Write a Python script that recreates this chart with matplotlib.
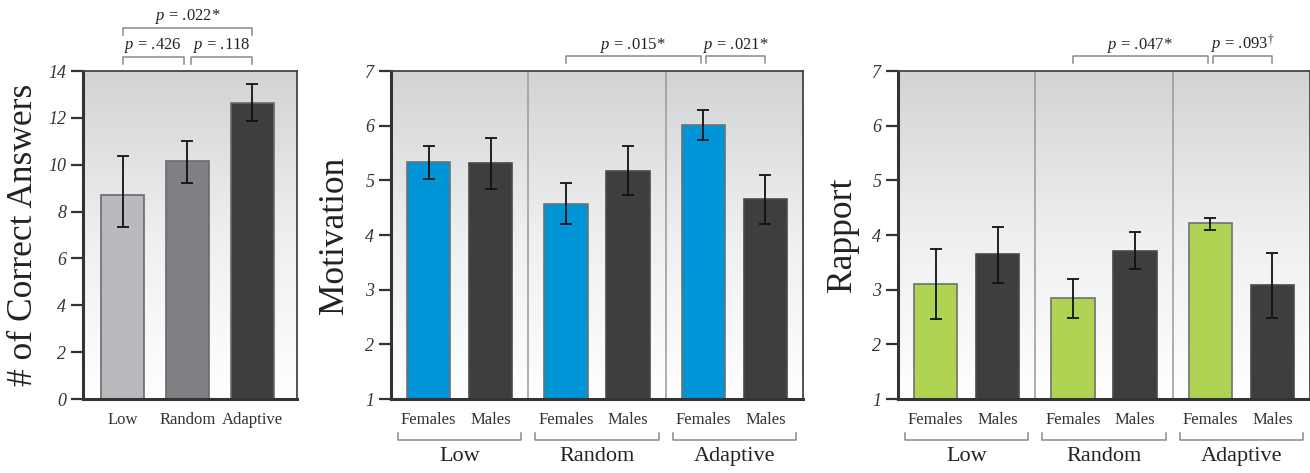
import numpy as np
import matplotlib
matplotlib.use('Agg')
import matplotlib.pyplot as plt
from matplotlib.colors import LinearSegmentedColormap
import matplotlib.transforms as mtrans

plt.rcParams['font.family'] = ['Liberation Serif', 'DejaVu Serif']
plt.rcParams['mathtext.fontset'] = 'custom'
plt.rcParams['mathtext.it'] = 'Liberation Serif:italic'
plt.rcParams['mathtext.rm'] = 'Liberation Serif'

# Data
conditions = ['Low', 'Random', 'Adaptive']
genders = ['Females', 'Males']

correct_mean = [8.7, 10.15, 12.65]
correct_lo = [7.35, 9.22, 11.87]
correct_hi = [10.37, 11.0, 13.43]

motiv_f = [5.33, 4.57, 6.01]
motiv_f_lo = [5.03, 4.2, 5.74]
motiv_f_hi = [5.63, 4.96, 6.29]
motiv_m = [5.31, 5.17, 4.65]
motiv_m_lo = [4.85, 4.73, 4.2]
motiv_m_hi = [5.77, 5.62, 5.1]

rapport_f = [3.1, 2.85, 4.22]
rapport_f_lo = [2.47, 2.49, 4.09]
rapport_f_hi = [3.74, 3.2, 4.32]
rapport_m = [3.66, 3.71, 3.08]
rapport_m_lo = [3.13, 3.37, 2.49]
rapport_m_hi = [4.15, 4.06, 3.67]

correct_pvals = ['.426', '.118', '.022*']
motiv_pvals = ['.015*', '.021*']
rapport_pvals = ['.047*', r'.093$^{\dagger}$']

# colours
bar_greys = ['#b9babe', '#7f8084', '#3e3e3e']
male_col = '#3e3e3e'
blue = '#0095d6'
green = '#b0d353'
bracket_col = '#8a8a8a'

W, H = 1310, 473
fig = plt.figure(figsize=(W / 100, H / 100), dpi=100)

grad_cmap = LinearSegmentedColormap.from_list('bg', ['#d2d3d5', '#eeeff0', '#ffffff'])


def px_axes(l, t, r, b):
    return fig.add_axes([l / W, 1 - b / H, (r - l) / W, (b - t) / H])


def style_axes(ax, ymin, ymax, yticks):
    grad = np.linspace(0, 1, 256).reshape(-1, 1)
    ax.imshow(grad, extent=[0, 1, 0, 1], transform=ax.transAxes, aspect='auto',
              cmap=grad_cmap, zorder=0)
    ax.set_ylim(ymin, ymax)
    ax.set_yticks(yticks)
    for lab in ax.get_yticklabels():
        lab.set_fontstyle('italic')
    ax.tick_params(axis='y', direction='out', length=9, width=1.6, color='#333333',
                   labelsize=13, labelcolor='#333333', pad=3)
    ax.tick_params(axis='x', length=0, labelsize=12, labelcolor='#333333', pad=9)
    for s in ['left', 'bottom']:
        ax.spines[s].set_linewidth(2.2)
        ax.spines[s].set_color('#333333')
    for s in ['top', 'right']:
        ax.spines[s].set_linewidth(1.3)
        ax.spines[s].set_color('#444444')


def bracket(ax, x0, x1, y, drop, text, ty):
    tr = mtrans.blended_transform_factory(ax.transData, ax.transAxes)
    ax.plot([x0, x0, x1, x1], [y - drop, y, y, y - drop], color=bracket_col, lw=1.1,
            transform=tr, clip_on=False)
    ax.text((x0 + x1) / 2, ty, r'$p$ = ' + text, transform=tr, ha='center', va='baseline',
            fontsize=12, color='#222222')


def ylabel(ax, text, xpx):
    ax.text(xpx, 0.5, text, transform=ax.transAxes, rotation=90, ha='center', va='center',
            fontsize=25.5, color='#222222')


# ---- Panel 1: correct answers ----
ax1 = px_axes(83, 71, 297, 399)
style_axes(ax1, 0, 14, range(0, 15, 2))
x = np.arange(len(conditions))
err = [np.array(correct_mean) - np.array(correct_lo), np.array(correct_hi) - np.array(correct_mean)]
ax1.bar(x, correct_mean, width=0.66, color=bar_greys, edgecolor='#6a6a6a', linewidth=1.2, zorder=2)
ax1.errorbar(x, correct_mean, yerr=err, fmt='none', ecolor='#111111', elinewidth=1.3,
             capsize=4, capthick=1.3, zorder=3)
ax1.set_xlim(-0.61, 2.69)
ax1.set_xticks(x)
ax1.set_xticklabels(conditions)
ylabel(ax1, '# of Correct Answers', -59 / 214)
bracket(ax1, 0, 1 - 0.055, 1.043, 0.022, correct_pvals[0], 1.068)
bracket(ax1, 1 + 0.055, 2, 1.043, 0.022, correct_pvals[1], 1.068)
bracket(ax1, 0, 2, 1.131, 0.022, correct_pvals[2], 1.157)


# ---- Gender panels ----
def gender_panel(left, fvals, flo, fhi, mvals, mlo, mhi, fcol, label, pvals):
    ax = px_axes(left, 71, left + 412, 399)
    style_axes(ax, 1, 7, range(1, 8))
    g = np.arange(len(conditions))
    off = 0.226
    bw = 0.314
    fv, mv = np.array(fvals), np.array(mvals)
    ax.bar(g - off, fv, width=bw, bottom=0, color=fcol, edgecolor='#707070', linewidth=1.2, zorder=2)
    ax.bar(g + off, mv, width=bw, bottom=0, color=male_col, edgecolor='#4a4a4a', linewidth=1.2, zorder=2)
    ax.errorbar(g - off, fv, yerr=[fv - np.array(flo), np.array(fhi) - fv], fmt='none',
                ecolor='#111111', elinewidth=1.3, capsize=4, capthick=1.3, zorder=3)
    ax.errorbar(g + off, mv, yerr=[mv - np.array(mlo), np.array(mhi) - mv], fmt='none',
                ecolor='#111111', elinewidth=1.3, capsize=4, capthick=1.3, zorder=3)
    ax.set_xlim(-0.5, 2.5)
    for sep in [0.5, 1.5]:
        ax.axvline(sep, color='#999999', lw=1.1, zorder=1)
    ax.set_xticks(np.concatenate([g - off, g + off]))
    ax.set_xticklabels([genders[0]] * 3 + [genders[1]] * 3)
    tr = mtrans.blended_transform_factory(ax.transData, ax.transAxes)
    for i, c in enumerate(conditions):
        ax.plot([i - 0.45, i - 0.45, i + 0.45, i + 0.45], [-0.103, -0.125, -0.125, -0.103],
                color=bracket_col, lw=1.1, transform=tr, clip_on=False)
        ax.text(i, -0.175, c, transform=tr, ha='center', va='center', fontsize=16, color='#222222')
    ylabel(ax, label, -56 / 412)
    # significance brackets: Random F vs Adaptive F, Adaptive F vs Adaptive M
    bracket(ax, 1 - off, 2 - off - 0.02, 1.047, 0.023, pvals[0], 1.066)
    bracket(ax, 2 - off + 0.02, 2 + off, 1.047, 0.023, pvals[1], 1.066)
    return ax


ax2 = gender_panel(391, motiv_f, motiv_f_lo, motiv_f_hi, motiv_m, motiv_m_lo, motiv_m_hi,
                   blue, 'Motivation', motiv_pvals)
ax3 = gender_panel(898, rapport_f, rapport_f_lo, rapport_f_hi, rapport_m, rapport_m_lo, rapport_m_hi,
                   green, 'Rapport', rapport_pvals)

fig.savefig('out.png', dpi=100)
